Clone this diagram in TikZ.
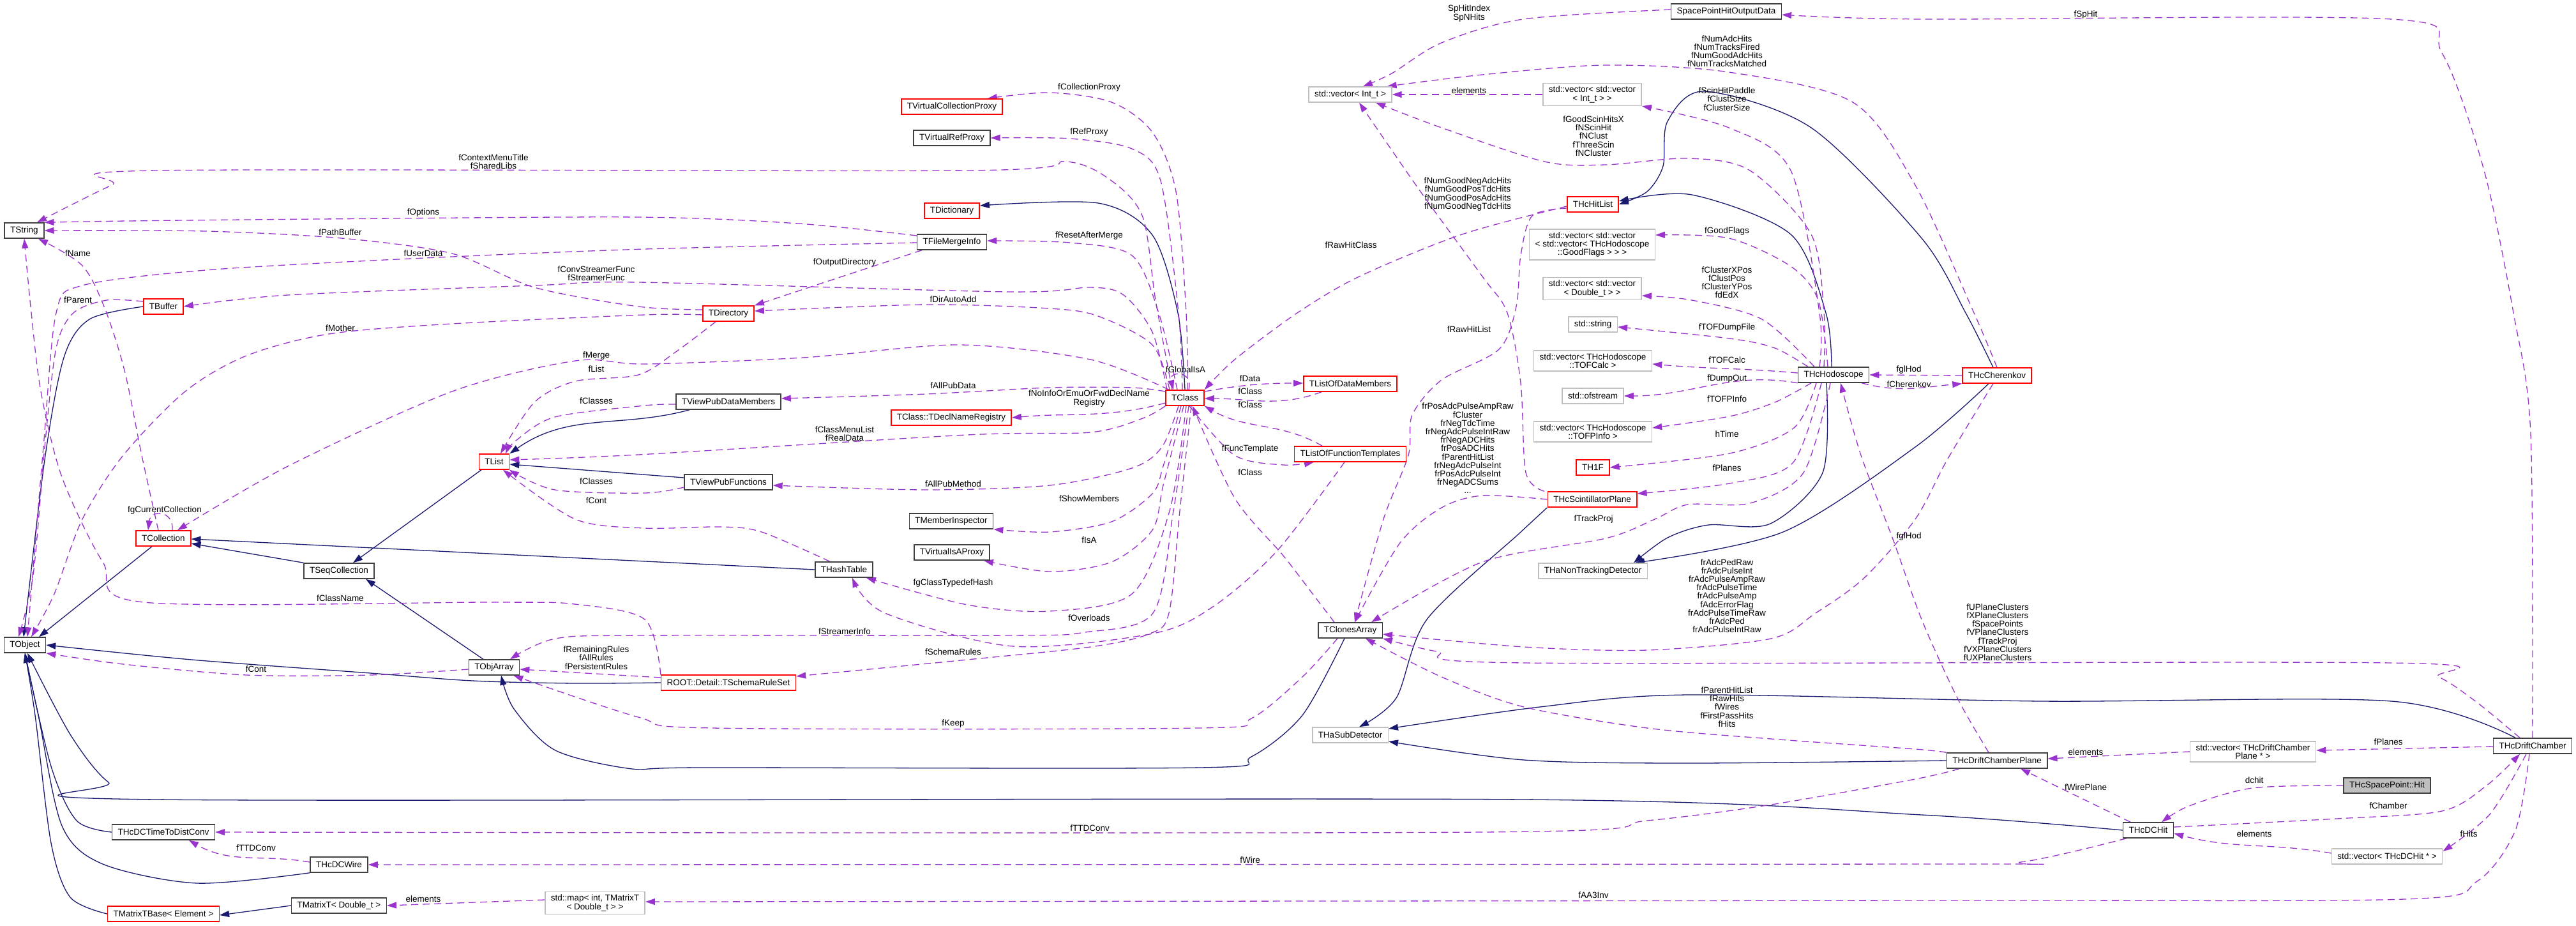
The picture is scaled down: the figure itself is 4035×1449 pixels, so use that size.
\documentclass[tikz,border=0pt]{standalone}
\usepackage{fontspec}
\setmainfont{Liberation Sans}
\usetikzlibrary{arrows.meta}
\definecolor{memc}{HTML}{9A32CD}
\definecolor{inhc}{HTML}{191970}
\definecolor{undocc}{HTML}{BFBFBF}
\pgfdeclarelayer{edges}
\pgfsetlayers{edges,main}
\begin{document}
\begin{tikzpicture}[x=1pt,y=-1pt]
\tikzset{every node/.style={font=\fontsize{13.5}{13.2}\selectfont},
  box/.style={draw,fill=white,line width=1.5pt,inner xsep=9pt,inner ysep=4.5pt,minimum height=24pt,align=center},
  cls/.style={box,draw=black!75},
  trunc/.style={box,draw=red},
  undoc/.style={box,draw=undocc},
  cur/.style={box,draw=black!75,fill=undocc},
  lbl/.style={inner sep=0pt,align=center},
  mem/.style={draw=memc,line width=1.3pt,dash pattern=on 11pt off 7pt,-{Triangle[length=15pt,width=10pt]}},
  inh/.style={draw=inhc,line width=1.3pt,-{Triangle[length=15pt,width=10pt]}}}
\useasboundingbox (0,0) rectangle (4035,1449);
\begin{pgfonlayer}{edges}
\fill[white] (0,0) rectangle (4035,1449);
\end{pgfonlayer}

\node[cls] (tstring) at (38,361) {TString};
\node[cls] (tobject) at (39,1010) {TObject};
\node[trunc] (tbuffer) at (256,480) {TBuffer};
\node[trunc] (tcollection) at (256,843) {TCollection};
\node[cls] (tseqcoll) at (531,894) {TSeqCollection};
\node[trunc] (tlist) at (774,723) {TList};
\node[cls] (tobjarray) at (774,1045) {TObjArray};
\node[cls] (ttdc) at (256,1303) {THcDCTimeToDistConv};
\node[cls] (dcwire) at (531,1354) {THcDCWire};
\node[trunc] (mtbase) at (256,1431) {TMatrixTBase< Element >};
\node[cls] (matrixt) at (531,1418) {TMatrixT< Double\_t >};
\node[undoc] (stdmap) at (932,1414) {std::map< int, TMatrixT\\< Double\_t > >};
\node[trunc] (tdirectory) at (1141,491) {TDirectory};
\node[cls] (viewdata) at (1141,629) {TViewPubDataMembers};
\node[cls] (viewfunc) at (1141,755) {TViewPubFunctions};
\node[trunc] (schema) at (1141,1069) {ROOT::Detail::TSchemaRuleSet};
\node[cls] (hashtable) at (1322,892) {THashTable};
\node[trunc] (vcollproxy) at (1491,167) {TVirtualCollectionProxy};
\node[cls] (vrefproxy) at (1491,216) {TVirtualRefProxy};
\node[trunc] (tdict) at (1491,330) {TDictionary};
\node[cls] (merge) at (1491,379) {TFileMergeInfo};
\node[trunc] (declreg) at (1490,654) {TClass::TDeclNameRegistry};
\node[cls] (meminsp) at (1490,816) {TMemberInspector};
\node[cls] (visaproxy) at (1491,865) {TVirtualIsAProxy};
\node[trunc] (tclass) at (1856,623) {TClass};
\node[undoc] (vecint) at (2115,148) {std::vector< Int\_t >};
\node[trunc] (listdata) at (2115,601) {TListOfDataMembers};
\node[trunc] (listfunc) at (2115,711) {TListOfFunctionTemplates};
\node[cls] (clones) at (2115,987) {TClonesArray};
\node[undoc] (subdet) at (2115,1151) {THaSubDetector};
\node[cls] (spout) at (2704,18) {SpacePointHitOutputData};
\node[undoc] (vecvecint) at (2494,148) {std::vector< std::vector\\< Int\_t > >};
\node[trunc] (hitlist) at (2495,320) {THcHitList};
\node[undoc] (goodflags) at (2494,383) {std::vector< std::vector\\< std::vector< THcHodoscope\\::GoodFlags > > >};
\node[undoc] (vecvecdbl) at (2494,452) {std::vector< std::vector\\< Double\_t > >};
\node[undoc] (stdstring) at (2495,508) {std::string};
\node[undoc] (tofcalc) at (2495,565) {std::vector< THcHodoscope\\::TOFCalc >};
\node[undoc] (ofstream) at (2495,620) {std::ofstream};
\node[undoc] (tofpinfo) at (2495,676) {std::vector< THcHodoscope\\::TOFPInfo >};
\node[trunc] (th1f) at (2495,732) {TH1F};
\node[trunc] (scintplane) at (2494,782) {THcScintillatorPlane};
\node[undoc] (nontrack) at (2495,894) {THaNonTrackingDetector};
\node[cls] (hodo) at (2872,587) {THcHodoscope};
\node[trunc] (cherenkov) at (3128,588) {THcCherenkov};
\node[cls] (dcplane) at (3128,1191) {THcDriftChamberPlane};
\node[undoc] (vecplane) at (3529,1177) {std::vector< THcDriftChamber\\Plane * >};
\node[cls] (dchit) at (3365,1300) {THcDCHit};
\node[cur] (sphit) at (3739,1230) {THcSpacePoint::Hit};
\node[undoc] (vecdchit) at (3739,1341) {std::vector< THcDCHit * >};
\node[cls] (driftch) at (3967,1168) {THcDriftChamber};

\node[lbl] (l01) at (773,253) {fContextMenuTitle\\fSharedLibs};
\node[lbl] (l02) at (663,333) {fOptions};
\node[lbl] (l03) at (533,364) {fPathBuffer};
\node[lbl] (l04) at (663,397) {fUserData};
\node[lbl] (l05) at (934,428) {fConvStreamerFunc\\fStreamerFunc};
\node[lbl] (l06) at (122,397) {fName};
\node[lbl] (l07) at (122,470) {fParent};
\node[lbl] (l08) at (533,514) {fMother};
\node[lbl] (l09) at (1493,469) {fDirAutoAdd};
\node[lbl] (l10) at (1323,411) {fOutputDirectory};
\node[lbl] (l11) at (1706,137) {fCollectionProxy};
\node[lbl] (l12) at (1706,207) {fRefProxy};
\node[lbl] (l13) at (1706,369) {fResetAfterMerge};
\node[lbl] (l14) at (1857,579) {fGlobalIsA};
\node[lbl] (l15) at (2116,384) {fRawHitClass};
\node[lbl] (l16) at (1493,604) {fAllPubData};
\node[lbl] (l17) at (1706,624) {fNoInfoOrEmuOrFwdDeclName\\Registry};
\node[lbl] (l18) at (1323,679) {fClassMenuList\\fRealData};
\node[lbl] (l19) at (1493,758) {fAllPubMethod};
\node[lbl] (l20) at (1706,781) {fShowMembers};
\node[lbl] (l21) at (1706,846) {fIsA};
\node[lbl] (l22) at (1493,913) {fgClassTypedefHash};
\node[lbl] (l23) at (1706,968) {fOverloads};
\node[lbl] (l24) at (1323,989) {fStreamerInfo};
\node[lbl] (l25) at (1493,1021) {fSchemaRules};
\node[lbl] (l26) at (934,1030) {fRemainingRules\\fAllRules\\fPersistentRules};
\node[lbl] (l27) at (401,1048) {fCont};
\node[lbl] (l28) at (1493,1133) {fKeep};
\node[lbl] (l29) at (533,937) {fClassName};
\node[lbl] (l30) at (934,628) {fClasses};
\node[lbl] (l31) at (934,754) {fClasses};
\node[lbl] (l32) at (934,557) {fMerge};
\node[lbl] (l33) at (934,578) {fList};
\node[lbl] (l34) at (934,784) {fCont};
\node[lbl] (l35) at (258,799) {fgCurrentCollection};
\node[lbl] (l36) at (2301,21) {SpHitIndex\\SpNHits};
\node[lbl] (l37) at (3267,23) {fSpHit};
\node[lbl] (l38) at (2705,80) {fNumAdcHits\\fNumTracksFired\\fNumGoodAdcHits\\fNumTracksMatched};
\node[lbl] (l39) at (2301,142) {elements};
\node[lbl] (l40) at (2496,213) {fGoodScinHitsX\\fNScinHit\\fNClust\\fThreeScin\\fNCluster};
\node[lbl] (l41) at (2705,155) {fScinHitPaddle\\fClustSize\\fClusterSize};
\node[lbl] (l42) at (2299,304) {fNumGoodNegAdcHits\\fNumGoodPosTdcHits\\fNumGoodPosAdcHits\\fNumGoodNegTdcHits};
\node[lbl] (l43) at (2301,516) {fRawHitList};
\node[lbl] (l44) at (2705,362) {fGoodFlags};
\node[lbl] (l45) at (2705,442) {fClusterXPos\\fClustPos\\fClusterYPos\\fdEdX};
\node[lbl] (l46) at (2705,513) {fTOFDumpFile};
\node[lbl] (l47) at (2705,564) {fTOFCalc};
\node[lbl] (l48) at (2705,593) {fDumpOut};
\node[lbl] (l49) at (2705,625) {fTOFPInfo};
\node[lbl] (l50) at (2705,680) {hTime};
\node[lbl] (l51) at (2705,733) {fPlanes};
\node[lbl] (l52) at (2496,813) {fTrackProj};
\node[lbl] (l53) at (2299,702) {frPosAdcPulseAmpRaw\\fCluster\\frNegTdcTime\\frNegAdcPulseIntRaw\\frNegADCHits\\frPosADCHits\\fParentHitList\\frNegAdcPulseInt\\frPosAdcPulseInt\\frNegADCSums\\...};
\node[lbl] (l54) at (2990,579) {fglHod};
\node[lbl] (l55) at (2990,602) {fCherenkov};
\node[lbl] (l56) at (2990,840) {fglHod};
\node[lbl] (l57) at (2705,933) {frAdcPedRaw\\frAdcPulseInt\\frAdcPulseAmpRaw\\frAdcPulseTime\\frAdcPulseAmp\\fAdcErrorFlag\\frAdcPulseTimeRaw\\frAdcPed\\frAdcPulseIntRaw};
\node[lbl] (l58) at (3129,990) {fUPlaneClusters\\fXPlaneClusters\\fSpacePoints\\fVPlaneClusters\\fTrackProj\\fVXPlaneClusters\\fUXPlaneClusters};
\node[lbl] (l59) at (2705,1107) {fParentHitList\\fRawHits\\fWires\\fFirstPassHits\\fHits};
\node[lbl] (l60) at (3267,1178) {elements};
\node[lbl] (l61) at (3741,1162) {fPlanes};
\node[lbl] (l62) at (3531,1222) {dchit};
\node[lbl] (l63) at (3267,1233) {fWirePlane};
\node[lbl] (l64) at (3741,1262) {fChamber};
\node[lbl] (l65) at (3531,1306) {elements};
\node[lbl] (l66) at (3867,1306) {fHits};
\node[lbl] (l67) at (1958,1347) {fWire};
\node[lbl] (l68) at (1707,1297) {fTTDConv};
\node[lbl] (l69) at (401,1328) {fTTDConv};
\node[lbl] (l70) at (663,1408) {elements};
\node[lbl] (l71) at (2496,1402) {fAA3Inv};
\node[lbl] (l72) at (1958,593) {fData};
\node[lbl] (l73) at (1958,613) {fClass};
\node[lbl] (l74) at (1958,634) {fClass};
\node[lbl] (l75) at (1958,703) {fFuncTemplate};
\node[lbl] (l76) at (1958,740) {fClass};

\begin{pgfonlayer}{edges}
% base classes
\draw[inh] plot[smooth] coordinates {(tbuffer.west) (140,500) (100,560) (70,720) ([xshift=-2]tobject.north)};
\draw[inh] ([xshift=-18]tcollection.south) -- ([xshift=22]tobject.north);
\draw[inh] (tseqcoll.north west) -- ([yshift=-8]tcollection.east);
\draw[inh] ([xshift=-20]tlist.south) -- ([xshift=22]tseqcoll.north);
\draw[inh] ([xshift=-61]viewdata.south) to[out=195,in=35] (tlist.north east);
\draw[inh] ([yshift=7]viewfunc.west) -- ([yshift=-4]tlist.east);
\draw[inh] (hashtable.west) -- ([yshift=-1]tcollection.east);
\draw[inh] ([xshift=-17]tobjarray.north) -- ([xshift=42]tseqcoll.south);
\draw[inh] plot[smooth] coordinates {(schema.west) (900,1070) (740,1066) (580,1054) (300,1033) (tobject.east)};
\draw[inh] plot[smooth] coordinates {([xshift=-9]clones.south) (2040,1120) (1960,1185) (1880,1202) (1100,1202) (990,1204) (870,1175) (805,1110) ([xshift=11]tobjarray.south)};
\draw[inh] plot[smooth] coordinates {(ttdc.west) (120,1285) (80,1200) (tobject.south)};
\draw[inh] plot[smooth] coordinates {(dcwire.south west) (309,1383) (161,1353) (97,1293) (60,1120) (tobject.south)};
\draw[inh] plot[smooth] coordinates {(mtbase.west) (110,1405) (80,1320) (55,1120) (tobject.south)};
\draw[inh] plot[smooth] coordinates {(dchit.west) (3010,1276) (2387,1252) (245,1252) (170,1225) (110,1150) ([xshift=4]tobject.south)};
\draw[inh] (matrixt.west) -- ([yshift=-2]mtbase.east);
\draw[inh] plot[smooth] coordinates {(tclass.north) (1845,490) (1805,368) (1720,318) ([yshift=8]tdict.east)};
\draw[inh] plot[smooth] coordinates {([xshift=-3]hodo.north) (2860,490) (2805,367) (2650,305) ([yshift=5]hitlist.east)};
\draw[inh] plot[smooth] coordinates {([xshift=-6]cherenkov.north) (3079,490) (3010,373) (2837,200) (2670,143) (2612,190) (2605,260) (2580,300) (hitlist.east)};
\draw[inh] plot[smooth] coordinates {([xshift=-11]hodo.south) (2855,740) (2773,820) (2676,822) (2612,842) ([xshift=-22]nontrack.north east)};
\draw[inh] plot[smooth] coordinates {([xshift=-13]cherenkov.south) (3000,700) (2793,833) ([xshift=-20]nontrack.north east)};
\draw[inh] plot[smooth] coordinates {(scintplane.south west) (2380,835) (2235,970) (2187,1093) ([xshift=14]subdet.north)};
\draw[inh] plot[smooth] coordinates {([xshift=-27]driftch.north) (3746,1098) (3198,1098) (2644,1088) (2412,1107) ([yshift=10]subdet.east)};
\draw[inh] plot[smooth] coordinates {(dcplane.west) (2644,1195) (2387,1190) ([yshift=-10]subdet.east)};

% members
\draw[mem] plot[smooth] coordinates {([xshift=-20]tclass.north) (1810,470) (1790,340) (1741,283) (1670,253) (1515,267) (245,267) (175,290) ([xshift=20]tstring.north)};
\draw[mem] plot[smooth] coordinates {([yshift=10]merge.west) (1250,350) (1000,340) (500,343) (200,346) (tstring.north east)};
\draw[mem] plot[smooth] coordinates {([yshift=6]tdirectory.west) (1000,480) (837,450) (708,397) (535,373) (322,362) (tstring.east)};
\draw[mem] plot[smooth] coordinates {([yshift=-1]merge.west) (1010,390) (644,405) (322,423) (129,447) (88,490) (68,700) ([xshift=4]tobject.north)};
\draw[mem] plot[smooth] coordinates {([xshift=-28]tclass.north) (1805,520) (1760,462) (1708,450) (1580,457) (1000,442) (837,447) (451,462) (tbuffer.east)};
\draw[mem] plot[smooth] coordinates {([xshift=-8]tcollection.north) (222,713) (195,580) (163,480) (128,415) ([xshift=22]tstring.south)};
\draw[mem] plot[smooth] coordinates {([yshift=8]tbuffer.west) (167,470) (115,490) (88,545) (70,700) (52,900) ([xshift=-10]tobject.north)};
\draw[mem] plot[smooth] coordinates {([yshift=-2]tdirectory.west) (1010,493) (708,507) (515,523) (386,557) (290,613) (193,713) (129,813) (85,930) ([xshift=10]tobject.north)};
\draw[mem] plot[smooth] coordinates {([xshift=-24]tclass.north) (1805,540) (1720,495) (1644,483) (1451,477) ([yshift=4]tdirectory.east)};
\draw[mem] ([xshift=-47]merge.south) -- (tdirectory.north east);
\draw[mem] plot[smooth] coordinates {([xshift=4]tclass.north) (1858,490) (1842,300) (1805,207) (1741,160) (1644,145) ([xshift=-24]vcollproxy.north east)};
\draw[mem] plot[smooth] coordinates {([xshift=-4]tclass.north) (1846,490) (1818,283) (1773,233) (1676,217) (vrefproxy.east)};
\draw[mem] plot[smooth] coordinates {([xshift=-12]tclass.north) (1815,490) (1773,400) (1676,380) ([yshift=2]merge.east)};
\draw[mem] ([xshift=6]tclass.north) .. controls (1870,580) and (1830,580) .. ([xshift=-18]tclass.north);
\draw[mem] plot[smooth] coordinates {([yshift=-3]hitlist.west) (2290,367) (2129,433) (2032,490) (1934,563) (tclass.north east)};
\draw[mem] plot[smooth] coordinates {([yshift=10]tclass.west) (1773,607) (1644,607) (1451,617) ([yshift=5]viewdata.east)};
\draw[mem] ([yshift=-8]tclass.west) to[out=195,in=5] (declreg.east);
\draw[mem] plot[smooth] coordinates {(tclass.south west) (1790,655) (1708,677) (1515,681) (1000,712) ([yshift=3]tlist.east)};
\draw[mem] plot[smooth] coordinates {([xshift=-10]tclass.south) (1820,700) (1773,733) (1644,760) (1451,767) ([yshift=-5]viewfunc.east)};
\draw[mem] plot[smooth] coordinates {([xshift=-6]tclass.south) (1822,730) (1805,773) (1741,817) (1644,833) (meminsp.south east)};
\draw[mem] plot[smooth] coordinates {([xshift=-2]tclass.south) (1822,760) (1805,830) (1741,880) (1644,895) ([xshift=-10]visaproxy.south east)};
\draw[mem] plot[smooth] coordinates {([xshift=2]tclass.south) (1832,800) (1773,930) (1644,957) (1515,947) ([xshift=-11]hashtable.south east)};
\draw[mem] plot[smooth] coordinates {([xshift=-9]listfunc.south) (2000,863) (1900,950) (1806,992) (1587,1012) (1386,960) ([xshift=13]hashtable.south)};
\draw[mem] plot[smooth] coordinates {([xshift=6]tclass.south) (1838,800) (1806,960) (1700,990) (1580,995) (1010,995) (870,1000) ([xshift=25]tobjarray.north)};
\draw[mem] plot[smooth] coordinates {([xshift=10]tclass.south) (1848,800) (1831,960) (1799,993) (1708,1013) (1515,1033) ([yshift=10]schema.east)};
\draw[mem] ([yshift=8]schema.west) -- ([yshift=-3]tobjarray.east);
\draw[mem] plot[smooth] coordinates {([yshift=-3]tobjarray.west) (580,1057) (386,1057) (193,1040) (tobject.south east)};
\draw[mem] plot[smooth] coordinates {([xshift=-20]clones.south) (2040,1060) (1960,1125) (1876,1140) (1116,1140) (1000,1123) ([xshift=-10]tobjarray.south east)};
\draw[mem] plot[smooth] coordinates {(schema.north west) (1010,970) (900,946) (773,943) (225,943) (161,880) (97,747) (64,613) (48,480) (tstring.south)};
\draw[mem] plot[smooth] coordinates {([yshift=-4]viewdata.west) (1010,635) (869,653) (808,690) ([xshift=18]tlist.north)};
\draw[mem] plot[smooth] coordinates {([yshift=-8]viewfunc.west) (1010,772) (869,767) ([xshift=24]tlist.south)};
\draw[mem] plot[smooth] coordinates {([xshift=-25]tclass.north) (1708,563) (1502,540) (1258,560) (1010,570) (901,565) (708,613) (451,730) ([xshift=22]tcollection.north)};
\draw[mem] plot[smooth] coordinates {([xshift=-20]tdirectory.south) (1060,550) (1000,587) (901,597) (837,630) ([xshift=10]tlist.north)};
\draw[mem] plot[smooth] coordinates {([xshift=-22]hashtable.north) (1193,833) (1129,825) (1010,827) (901,813) ([xshift=14]tlist.south)};
\draw[mem] ([xshift=14]tcollection.north) .. controls (272,798) and (236,798) .. ([xshift=-24]tcollection.north);
\draw[mem] plot[smooth] coordinates {([yshift=3]spout.west) (2386,30) (2258,67) (2180,115) ([xshift=20]vecint.north)};
\draw[mem] plot[smooth] coordinates {(driftch.north) (3964,680) (3937,490) (3891,267) (3825,83) (3746,30) (3010,30) ([yshift=-5]spout.east)};
\draw[mem] plot[smooth] coordinates {(cherenkov.north) (3092,490) (3000,290) (2902,160) (2708,113) (2515,102) (2322,117) ([xshift=-8]vecint.north east)};
\draw[mem] (vecvecint.west) -- (vecint.east);
\draw[mem] plot[smooth] coordinates {([xshift=-15]hodo.north) (2857,490) (2837,367) (2741,267) (2644,248) (2515,258) (2419,253) (2258,200) ([xshift=40]vecint.south)};
\draw[mem] plot[smooth] coordinates {([xshift=-22]hodo.north) (2850,490) (2805,267) (2708,200) (vecvecint.south east)};
\draw[mem] plot[smooth] coordinates {([xshift=-75]scintplane.north) (2390,740) (2382,600) (2361,490) (2322,433) (2225,300) ([xshift=14]vecint.south)};
\draw[mem] plot[smooth] coordinates {([yshift=-6]hitlist.west) (2400,338) (2382,400) (2375,480) (2348,547) (2258,595) (2212,650) (2206,713) (2167,813) ([xshift=7]clones.north)};
\draw[mem] plot[smooth] coordinates {([xshift=-9]hodo.north) (2848,470) (2805,417) (2708,373) ([yshift=15]goodflags.east)};
\draw[mem] plot[smooth] coordinates {([xshift=-30]hodo.north) (2760,500) (2650,470) ([yshift=-11]vecvecdbl.east)};
\draw[mem] plot[smooth] coordinates {([xshift=-40]hodo.north) (2780,545) (2709,530) ([yshift=-4]stdstring.east)};
\draw[mem] ([yshift=3]hodo.west) to[out=175,in=-5] ([yshift=-5]tofcalc.east);
\draw[mem] (hodo.south west) to[out=170,in=0] (ofstream.east);
\draw[mem] plot[smooth] coordinates {([xshift=-35]hodo.south) (2780,630) (2709,652) ([yshift=6]tofpinfo.east)};
\draw[mem] plot[smooth] coordinates {([xshift=-27]hodo.south) (2810,670) (2709,710) (th1f.east)};
\draw[mem] plot[smooth] coordinates {([xshift=-19]hodo.south) (2808,725) (2709,757) ([yshift=9]scintplane.east)};
\draw[mem] plot[smooth] coordinates {([xshift=-5]hodo.south) (2825,740) (2741,788) (2644,790) (2592,813) (2515,843) (2322,880) ([xshift=33]clones.north)};
\draw[mem] plot[smooth] coordinates {(scintplane.west) (2322,776) (2258,795) (2193,850) ([xshift=7]clones.north)};
\draw[mem] (cherenkov.west) -- (hodo.east);
\draw[mem] ([xshift=-12]hodo.south east) to[out=-15,in=185] (cherenkov.south west);
\draw[mem] plot[smooth] coordinates {([xshift=-13]dcplane.north) (3066,1093) (3010,970) (2966,847) (2915,713) ([xshift=11]hodo.south)};
\draw[mem] plot[smooth] coordinates {([xshift=-6]cherenkov.south) (3050,720) (3000,813) (2920,905) (2844,960) (2774,1000) (2580,1018) (2387,1013) ([yshift=-6]clones.east)};
\draw[mem] plot[smooth] coordinates {([xshift=-20]driftch.north) (3880,1100) (3820,1060) (3746,1038) (2387,1038) (2250,1020) (clones.south east)};
\draw[mem] plot[smooth] coordinates {(dcplane.north west) (3000,1173) (2774,1157) (2580,1140) (2387,1107) (2258,1060) ([xshift=24]clones.south)};
\draw[mem] (vecplane.west) -- ([yshift=3]dcplane.east);
\draw[mem] ([yshift=-1]driftch.west) -- ([yshift=2]vecplane.east);
\draw[mem] plot[smooth] coordinates {(sphit.west) (3528,1234) (3429,1262) ([xshift=21]dchit.north)};
\draw[mem] ([xshift=-28]dchit.north) -- ([xshift=37]dcplane.south);
\draw[mem] plot[smooth] coordinates {([yshift=5]dchit.east) (3660,1282) (3825,1270) (3895,1230) ([xshift=-20]driftch.south)};
\draw[mem] ([yshift=5]vecdchit.west) to[out=170,in=-15] ([yshift=-5]dchit.east);
\draw[mem] plot[smooth] coordinates {([xshift=-10]driftch.south) (3900,1275) ([yshift=8]vecdchit.east)};
\draw[mem] plot[smooth] coordinates {([xshift=6]dchit.south west) (3165,1350) (3000,1353) (dcwire.east)};
\draw[mem] plot[smooth] coordinates {([xshift=-59]dcplane.south) (3000,1220) (2774,1260) (2580,1285) (2322,1303) (ttdc.east)};
\draw[mem] ([yshift=4]dcwire.west) to[out=170,in=-30] ([xshift=40]ttdc.south);
\draw[mem] ([yshift=5]stdmap.west) -- (matrixt.east);
\draw[mem] plot[smooth] coordinates {([xshift=-5]driftch.south) (3940,1300) (3880,1380) (3766,1408) (3000,1410) ([yshift=2]stdmap.east)};
\draw[mem] ([yshift=10]tclass.east) to[out=10,in=180] ([yshift=1]listdata.west);
\draw[mem] ([xshift=-45]listdata.south) to[out=200,in=0] ([yshift=-1]tclass.east);
\draw[mem] ([xshift=-44]listfunc.north) to[out=150,in=-30] (tclass.south east);
\draw[mem] plot[smooth] coordinates {([xshift=7]tclass.south) (1934,713) (2010,728) ([xshift=-57]listfunc.south)};
\draw[mem] plot[smooth] coordinates {([xshift=-25]clones.north) (2060,935) (2010,870) (1934,780) ([xshift=12]tclass.south)};
\end{pgfonlayer}
\end{tikzpicture}
\end{document}
